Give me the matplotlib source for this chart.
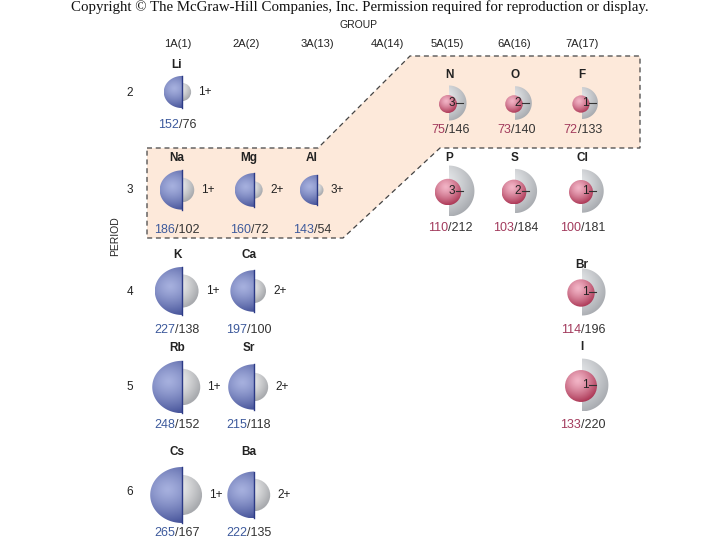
import numpy as np
import matplotlib
matplotlib.use("Agg")
import matplotlib.pyplot as plt
from matplotlib.patches import Circle, Polygon
from matplotlib.colors import to_rgb

# atomic / ionic radii (pm)
metal_symbols = ["Li", "Na", "K", "Rb", "Cs", "Mg", "Ca", "Sr", "Ba", "Al"]
metal_group = [1, 1, 1, 1, 1, 2, 2, 2, 2, 3]
metal_period = [2, 3, 4, 5, 6, 3, 4, 5, 6, 3]
metal_atomic = [152, 186, 227, 248, 265, 160, 197, 215, 222, 143]
metal_ionic = [76, 102, 138, 152, 167, 72, 100, 118, 135, 54]
metal_charge = ["1+", "1+", "1+", "1+", "1+", "2+", "2+", "2+", "2+", "3+"]

nonmetal_symbols = ["N", "P", "O", "S", "F", "Cl", "Br", "I"]
nonmetal_group = [15, 15, 16, 16, 17, 17, 17, 17]
nonmetal_period = [2, 3, 2, 3, 2, 3, 4, 5]
nonmetal_atomic = [75, 110, 73, 103, 72, 100, 114, 133]
nonmetal_ionic = [146, 212, 140, 184, 133, 181, 196, 220]
nonmetal_charge = ["3", "3", "2", "2", "1", "1", "1", "1"]

group_labels = ["1A(1)", "2A(2)", "3A(13)", "4A(14)", "5A(15)", "6A(16)", "7A(17)"]
period_labels = ["2", "3", "4", "5", "6"]

# layout (pixels)
SCALE = 0.12
SQUASH = 0.88
col_x = {1: 182, 2: 254, 3: 317, 14: 388, 15: 449, 16: 515, 17: 582}
header_x = [178, 246, 317, 387, 447, 514, 582]
# period -> (symbol y, centre y, value y)
metal_rows = {2: (65, 92, 125), 3: (158, 190, 230), 4: (255, 291, 330),
              5: (348, 387, 425), 6: (452, 495, 533)}
nonmetal_rows = {2: (75, 103, 130), 3: (158, 191, 228), 4: (265, 292, 330),
                 5: (347, 385, 425)}
period_y = [93, 190, 292, 387, 492]

SANS = "Liberation Sans"
BLUE_TXT = "#3d5a9c"
RED_TXT = "#a23a5c"
DARK_TXT = "#333333"
VAL_FS = 9

fig = plt.figure(figsize=(7.2, 5.4), dpi=100)
ax = fig.add_axes([0, 0, 1, 1])
ax.set_xlim(0, 720)
ax.set_ylim(540, 0)
ax.axis("off")


def shaded(cx, cy, rx, ry, light, dark, clip, hx=-0.35, hy=-0.3, z=2):
    n = 80
    u = np.linspace(-1, 1, n)
    X, Y = np.meshgrid(u, u)
    d = np.sqrt((X - hx) ** 2 + (Y - hy) ** 2)
    t = np.clip(d / 1.45, 0, 1) ** 1.3
    c1 = np.array(to_rgb(light))
    c2 = np.array(to_rgb(dark))
    img = c1[None, None, :] * (1 - t[..., None]) + c2[None, None, :] * t[..., None]
    im = ax.imshow(img, extent=(cx - rx, cx + rx, cy + ry, cy - ry), origin="upper",
                   interpolation="bilinear", zorder=z)
    clip.set_transform(ax.transData)
    im.set_clip_path(clip)


def half(cx, cy, rx, ry, a0, a1):
    th = np.radians(np.linspace(a0, a1, 60))
    return Polygon(np.c_[cx + rx * np.cos(th), cy - ry * np.sin(th)], closed=True)


def value_label(cx, y, a, b, color):
    px = VAL_FS * 100 / 72
    dw = 0.556 * px
    w = (len(a) + len(b)) * dw + 0.278 * px
    sx = cx - w / 2 + len(a) * dw
    ax.text(sx, y, a, ha="right", va="center", fontsize=VAL_FS, family=SANS, color=color)
    ax.text(sx, y, "/" + b, ha="left", va="center", fontsize=VAL_FS, family=SANS,
            color=DARK_TXT)


# shaded region
region = Polygon([(147, 148), (318, 148), (410, 56), (640, 56), (640, 148),
                  (440, 148), (343, 238), (147, 238)], closed=True,
                 facecolor="#fde9da", edgecolor="#444444", linestyle=(0, (4, 3)),
                 linewidth=0.9, zorder=1)
ax.add_patch(region)

# metals: gray ion behind, blue half atom in front
for s, g, p, ra, ri, q in zip(metal_symbols, metal_group, metal_period,
                              metal_atomic, metal_ionic, metal_charge):
    x = col_x[g]
    ly, cy, vy = metal_rows[p]
    Ra = ra * SCALE
    Ri = ri * SCALE
    shaded(x, cy, Ri, Ri, "#f4f4f4", "#a8aaae", Circle((x, cy), Ri),
           hx=-0.4, hy=-0.35, z=2)
    shaded(x, cy, Ra, Ra * SQUASH, "#a6b0de", "#33418c",
           half(x, cy, Ra, Ra * SQUASH, 90, 270), hx=-0.45, hy=-0.2, z=3)
    ax.plot([x, x], [cy - Ra * SQUASH, cy + Ra * SQUASH], color="#2c3a86",
            lw=1.0, zorder=4)
    ax.text(x - 5, ly, s, ha="center", va="center", fontsize=8.5,
            fontweight="bold", family=SANS, color="#222222")
    ax.text(x + Ri + 14, cy, q, ha="center", va="center", fontsize=8.5,
            family=SANS, color="#222222")
    value_label(x - 5, vy, str(ra), str(ri), BLUE_TXT)

# nonmetals: gray half ion behind, red atom in front
for s, g, p, ra, ri, q in zip(nonmetal_symbols, nonmetal_group, nonmetal_period,
                              nonmetal_atomic, nonmetal_ionic, nonmetal_charge):
    x = col_x[g]
    ly, cy, vy = nonmetal_rows[p]
    Ra = ra * SCALE
    Ri = ri * SCALE
    shaded(x, cy, Ri, Ri, "#eceef0", "#a6a9ae", half(x, cy, Ri, Ri, -90, 90),
           hx=-0.3, hy=-0.3, z=2)
    shaded(x - 1, cy + 1, Ra, Ra, "#f2b4c6", "#a8304f", Circle((x - 1, cy + 1), Ra),
           hx=-0.2, hy=-0.35, z=3)
    ax.text(x + 3, cy, q, ha="center", va="center", fontsize=8.5,
            family=SANS, color="#222222", zorder=5)
    ax.plot([x + 7, x + 14], [cy, cy], color="#333333", lw=0.8, zorder=5)
    ax.text(x, ly, s, ha="center", va="center", fontsize=8.5,
            fontweight="bold", family=SANS, color="#222222")
    value_label(x + 1, vy, str(ra), str(ri), RED_TXT)

# headers
for lab, hx in zip(group_labels, header_x):
    ax.text(hx, 44, lab, ha="center", va="center", fontsize=8, family=SANS,
            color="#222222")
for lab, py in zip(period_labels, period_y):
    ax.text(130, py, lab, ha="center", va="center", fontsize=8.5, family=SANS,
            color="#222222")
ax.text(358, 25, "GROUP", ha="center", va="center", fontsize=7.5, family=SANS,
        color="#222222")
ax.text(115, 236, "PERIOD", ha="center", va="center", rotation=90, fontsize=7.5,
        family=SANS, color="#222222")
ax.text(360, 7, "Copyright \u00a9 The McGraw-Hill Companies, Inc. Permission required for reproduction or display.",
        ha="center", va="center", fontsize=10.7, family="Liberation Serif",
        color="#111111")

fig.savefig("out.png", dpi=100)
